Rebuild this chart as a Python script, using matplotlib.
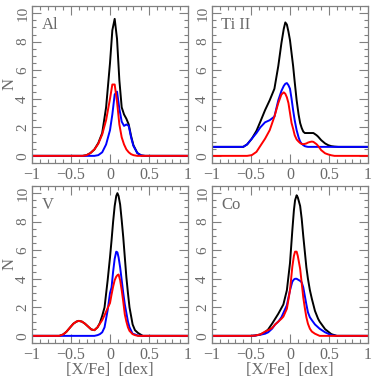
import matplotlib
matplotlib.use("Agg")
import matplotlib.pyplot as plt
from matplotlib.ticker import MultipleLocator

# ---------------- data ----------------
panel_names = ["Al", "Ti II", "V", "Co"]

al_x     = [-1.0, -0.35, -0.30, -0.25, -0.20, -0.15, -0.10, -0.05, 0.00, 0.03, 0.06, 0.09, 0.12, 0.15, 0.18, 0.21, 0.24, 0.27, 0.30, 0.35, 0.40, 0.45, 1.0]
al_black = [0.0, 0.0, 0.05, 0.2, 0.45, 0.9, 1.6, 3.4, 6.5, 8.8, 9.6, 8.2, 5.3, 3.4, 2.9, 2.6, 2.2, 1.4, 0.75, 0.2, 0.03, 0.0, 0.0]
al_blue  = [0.0, 0.0, 0.0, 0.0, 0.0, 0.05, 0.25, 0.8, 1.8, 2.9, 4.3, 4.5, 3.3, 2.4, 2.1, 2.2, 2.1, 1.3, 0.7, 0.2, 0.03, 0.0, 0.0]
al_red   = [0.0, 0.0, 0.05, 0.2, 0.45, 0.85, 1.5, 2.5, 4.0, 5.0, 5.0, 3.8, 2.2, 1.3, 0.8, 0.45, 0.25, 0.12, 0.05, 0.0, 0.0, 0.0, 0.0]

ti_x     = [-1.0, -0.60, -0.55, -0.49, -0.43, -0.38, -0.32, -0.26, -0.20, -0.15, -0.11, -0.08, -0.06, -0.04, -0.02, 0.00, 0.02, 0.04, 0.06, 0.085, 0.11, 0.13, 0.15, 0.17, 0.19, 0.21, 0.23, 0.26, 0.28, 0.30, 0.34, 0.36, 0.40, 0.45, 0.49, 0.53, 0.57, 0.62, 1.0]
ti_black = [0.63, 0.63, 0.8, 1.2, 1.75, 2.4, 3.2, 3.9, 4.7, 6.3, 7.9, 8.9, 9.35, 9.2, 8.7, 8.1, 7.2, 6.3, 5.2, 3.9, 2.9, 2.3, 1.95, 1.7, 1.6, 1.6, 1.6, 1.6, 1.6, 1.6, 1.45, 1.35, 1.1, 0.87, 0.75, 0.68, 0.65, 0.63, 0.63]
ti_blue  = [0.63, 0.63, 0.8, 1.2, 1.6, 2.0, 2.35, 2.5, 2.75, 3.9, 4.55, 4.9, 5.05, 5.1, 4.95, 4.7, 4.0, 3.2, 2.5, 1.8, 1.3, 1.0, 0.85, 0.75, 0.68, 0.65, 0.63, 0.63, 0.63, 0.63, 0.63, 0.63, 0.63, 0.63, 0.63, 0.63, 0.63, 0.63, 0.63]
ti_red   = [0.0, 0.0, 0.0, 0.05, 0.28, 0.7, 1.2, 1.8, 2.75, 3.7, 4.3, 4.45, 4.35, 4.1, 3.7, 3.0, 2.3, 1.9, 1.45, 1.15, 1.0, 0.9, 0.83, 0.82, 0.84, 0.87, 0.93, 0.98, 1.0, 0.98, 0.82, 0.7, 0.4, 0.18, 0.1, 0.04, 0.0, 0.0, 0.0]

v_x      = [-1.0, -0.65, -0.60, -0.56, -0.51, -0.47, -0.43, -0.40, -0.36, -0.32, -0.28, -0.24, -0.20, -0.16, -0.13, -0.10, -0.07, -0.03, 0.00, 0.02, 0.04, 0.06, 0.08, 0.095, 0.11, 0.13, 0.15, 0.17, 0.19, 0.21, 0.23, 0.25, 0.29, 0.32, 0.36, 0.42, 1.0]
v_black  = [0.0, 0.0, 0.1, 0.28, 0.6, 0.85, 1.0, 1.05, 1.0, 0.85, 0.65, 0.45, 0.4, 0.6, 0.9, 1.4, 2.0, 3.9, 5.5, 6.7, 8.0, 9.1, 9.8, 10.0, 9.8, 9.2, 8.1, 6.9, 5.5, 4.1, 3.0, 2.0, 0.8, 0.4, 0.2, 0.0, 0.0]
v_blue   = [0.0, 0.0, 0.0, 0.0, 0.0, 0.0, 0.0, 0.0, 0.0, 0.0, 0.0, 0.0, 0.0, 0.05, 0.12, 0.25, 0.6, 1.8, 3.0, 3.4, 4.5, 5.4, 5.9, 5.85, 5.5, 4.8, 3.9, 3.0, 2.2, 1.6, 1.0, 0.6, 0.15, 0.1, 0.02, 0.0, 0.0]
v_red    = [0.0, 0.0, 0.1, 0.28, 0.6, 0.85, 1.0, 1.05, 1.0, 0.85, 0.65, 0.45, 0.4, 0.6, 0.85, 1.1, 1.45, 1.95, 2.3, 2.9, 3.45, 3.9, 4.15, 4.25, 4.3, 3.9, 3.2, 2.4, 1.5, 1.0, 0.6, 0.35, 0.12, 0.05, 0.0, 0.0, 0.0]

co_x     = [-1.0, -0.50, -0.45, -0.38, -0.32, -0.28, -0.23, -0.19, -0.15, -0.11, -0.085, -0.04, 0.00, 0.03, 0.05, 0.065, 0.085, 0.10, 0.13, 0.15, 0.17, 0.19, 0.21, 0.23, 0.255, 0.28, 0.32, 0.36, 0.38, 0.45, 0.53, 0.60, 1.0]
co_black = [0.0, 0.0, 0.02, 0.1, 0.25, 0.45, 0.85, 1.2, 1.55, 1.95, 2.2, 3.2, 5.1, 7.4, 8.8, 9.5, 9.85, 9.7, 9.1, 8.2, 7.0, 5.9, 4.8, 4.0, 3.2, 2.6, 1.75, 1.2, 1.0, 0.47, 0.12, 0.0, 0.0]
co_blue  = [0.0, 0.0, 0.02, 0.08, 0.15, 0.25, 0.5, 0.8, 1.0, 1.3, 1.6, 2.15, 3.2, 3.8, 3.95, 4.0, 4.0, 3.95, 3.85, 3.75, 3.4, 2.8, 2.2, 1.65, 1.3, 1.1, 0.8, 0.6, 0.5, 0.25, 0.05, 0.0, 0.0]
co_red   = [0.0, 0.0, 0.02, 0.1, 0.3, 0.4, 0.55, 0.8, 1.0, 1.2, 1.35, 1.9, 3.2, 4.85, 5.6, 5.9, 5.9, 5.6, 4.7, 3.7, 2.7, 1.95, 1.3, 0.85, 0.5, 0.3, 0.15, 0.05, 0.0, 0.0, 0.0, 0.0, 0.0]

panels = [
    (al_x, al_black, al_blue, al_red),
    (ti_x, ti_black, ti_blue, ti_red),
    (v_x, v_black, v_blue, v_red),
    (co_x, co_black, co_blue, co_red),
]

x_ticks = [-1, -0.5, 0, 0.5, 1]
x_tick_labels = ["\u22121", "\u22120.5", "0", "0.5", "1"]
y_ticks = [0, 2, 4, 6, 8, 10]

# ---------------- figure ----------------
plt.rcParams['font.family'] = ['Liberation Serif', 'DejaVu Serif']

W, H = 374, 379
fig = plt.figure(figsize=(W / 100, H / 100), dpi=100)

gray = '#6a6a6a'
spine_gray = '#808080'

lefts = [32, 212]
tops = [6, 186]
aw, ah = 156, 157

for i, (name, (xs, yb, yl, yr)) in enumerate(zip(panel_names, panels)):
    col = i % 2
    row = i // 2
    l = lefts[col] / W
    b = 1 - (tops[row] + ah) / H
    ax = fig.add_axes([l, b, aw / W, ah / H])
    ax.plot(xs, yb, color='black', lw=1.4, solid_joinstyle='round')
    ax.plot(xs, yl, color='#0000ff', lw=1.4, solid_joinstyle='round')
    ax.plot(xs, yr, color='#ff0000', lw=1.4, solid_joinstyle='round')
    ax.set_xlim(-1, 1)
    ax.set_ylim(-0.5, 10.5)
    ax.set_xticks(x_ticks)
    ax.set_xticklabels(x_tick_labels)
    ax.set_yticks(y_ticks)
    ax.set_yticklabels([str(v) for v in y_ticks], rotation=90, va='center')
    ax.xaxis.set_minor_locator(MultipleLocator(0.1))
    ax.yaxis.set_minor_locator(MultipleLocator(0.5))
    ax.tick_params(which='both', direction='in', top=True, right=True,
                   color=spine_gray, labelcolor=gray, width=0.8)
    ax.tick_params(which='major', length=6.5)
    ax.tick_params(which='minor', length=3.2)
    ax.tick_params(axis='x', pad=3, labelsize=11.5)
    ax.tick_params(axis='y', pad=2, labelsize=11)
    for sp in ax.spines.values():
        sp.set_color(spine_gray)
        sp.set_linewidth(0.9)
    if col == 0:
        fig.text(10 / W, b + 0.5 * ah / H, "N", rotation=90, ha='center',
                 va='center', color=gray, fontsize=12)
    if row == 1:
        ax.set_xlabel("[X/Fe]  [dex]", color=gray, fontsize=12, labelpad=-0.5)
    ax.text(0.06, 0.93, name, transform=ax.transAxes, ha='left', va='top',
            fontsize=12, color=gray)

fig.savefig("out.png", dpi=100)
